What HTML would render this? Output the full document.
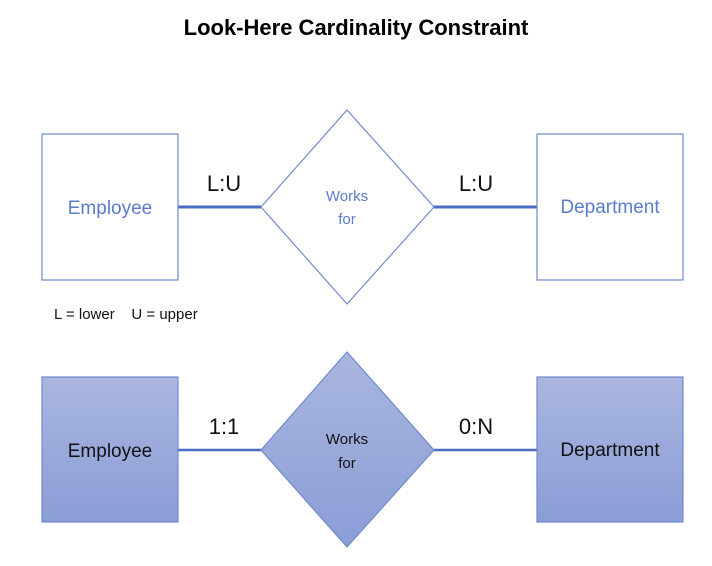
<!DOCTYPE html>
<html><head><meta charset="utf-8"><style>body{margin:0;background:#fff}</style></head><body>
<svg width="712" height="561" xmlns="http://www.w3.org/2000/svg" font-family="Liberation Sans, sans-serif">
<defs><linearGradient id="g" x1="0" y1="0" x2="0" y2="1"><stop offset="0" stop-color="#aab6df"/><stop offset="1" stop-color="#8a9dd6"/></linearGradient></defs>
<text x="356" y="35" text-anchor="middle" font-size="22" font-weight="bold" fill="#000">Look-Here Cardinality Constraint</text>
<g stroke="#4a6cc4" stroke-width="3"><line x1="178" y1="207" x2="261" y2="207"/><line x1="434" y1="207" x2="537" y2="207"/>
<line x1="178" y1="450" x2="261" y2="450" stroke-width="2.5"/><line x1="434" y1="450" x2="537" y2="450" stroke-width="2.5"/></g>
<g fill="#fff" stroke="#6f8acc" stroke-width="1.2">
<rect x="42" y="134" width="136" height="146"/><rect x="537" y="134" width="146" height="146"/>
<polygon points="347,110 434,207 347,304 261,207"/></g>
<g fill="url(#g)" stroke="#6f8acc" stroke-width="1.2">
<rect x="42" y="377" width="136" height="145"/><rect x="537" y="377" width="146" height="145"/>
<polygon points="347,352 434,450 347,547 261,450"/></g>
<g fill="#5b7bcc" text-anchor="middle"><text x="110" y="214" font-size="19">Employee</text><text x="610" y="213" font-size="19">Department</text>
<text x="347" y="201" font-size="15">Works</text><text x="347" y="224" font-size="15">for</text></g>
<g fill="#111" text-anchor="middle"><text x="110" y="457" font-size="19">Employee</text><text x="610" y="456" font-size="19">Department</text>
<text x="347" y="444" font-size="15">Works</text><text x="347" y="468" font-size="15">for</text>
<text x="224" y="191" font-size="22">L:U</text><text x="476" y="191" font-size="22">L:U</text>
<text x="224" y="434" font-size="22">1:1</text><text x="476" y="434" font-size="22">0:N</text></g>
<text x="54" y="319" font-size="15" fill="#111" xml:space="preserve">L = lower    U = upper</text>
</svg></body></html>
